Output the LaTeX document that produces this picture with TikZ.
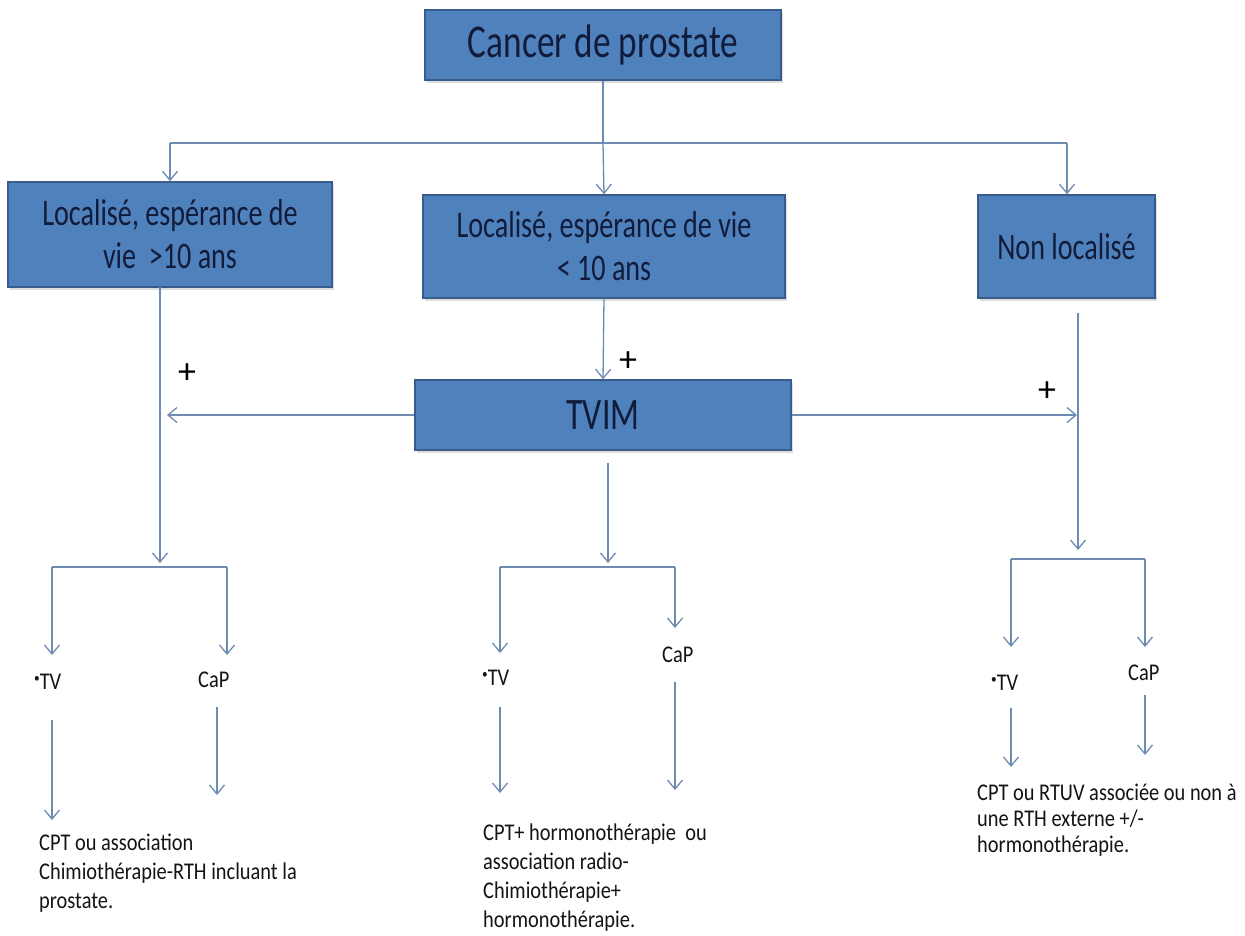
\documentclass[tikz,border=0pt]{standalone}
\usepackage{fontspec}
\setmainfont{Carlito}
\newfontfamily\boxfont[FakeStretch=0.75]{Carlito}
\newfontfamily\smallfont[FakeStretch=0.85]{Carlito}
\usetikzlibrary{arrows.meta,shadows}
\definecolor{boxfill}{RGB}{79,129,189}
\definecolor{boxline}{RGB}{56,93,138}
\definecolor{boxtext}{RGB}{18,28,58}
\definecolor{connc}{RGB}{110,140,178}
\definecolor{bodytext}{RGB}{20,20,20}
\newcommand{\tvbullet}{\raisebox{7pt}{\scalebox{0.55}{•}}}
\begin{document}
\begin{tikzpicture}[x=1pt,y=-1pt,
  box/.style={draw=boxline, line width=1.5pt, fill=boxfill, text=boxtext, align=center, inner sep=0pt,
    drop shadow={shadow xshift=2pt, shadow yshift=-3pt, fill=black!30, opacity=0.45}},
  conn/.style={draw=connc, line width=1.3pt},
  arr/.style={conn, -{Straight Barb[length=9pt,width=15pt,line width=1.3pt]}},
  lbl/.style={inner sep=0pt, text=bodytext, font=\smallfont\fontsize{24}{29}\selectfont},
  body/.style={lbl, align=left, anchor=north west},
  plus/.style={inner sep=0pt, text=black, font=\fontsize{36}{36}\selectfont}
]
\fill[white] (0,0) rectangle (1245,935);
\useasboundingbox (0,0) rectangle (1245,935);

% boxes
\node[box, minimum width=356pt, minimum height=70pt, font=\boxfont\fontsize{47}{54}\selectfont] (top) at (603,45) {Cancer de prostate};
\node[box, minimum width=324pt, minimum height=105pt, font=\boxfont\fontsize{37.5}{43}\selectfont] (left) at (170,234.5) {Localisé, espérance de\\vie\ \ >10 ans};
\node[box, minimum width=362pt, minimum height=103pt, font=\boxfont\fontsize{37.5}{43}\selectfont] (mid) at (604,246.5) {Localisé, espérance de vie\\< 10 ans};
\node[box, minimum width=177pt, minimum height=103pt, font=\boxfont\fontsize{37.5}{43}\selectfont] (right) at (1066.5,246.5) {Non localisé};
\node[box, minimum width=376pt, minimum height=70pt, font=\boxfont\fontsize{45}{50}\selectfont] (tvim) at (603,415) {TVIM};

% top distribution
\coordinate (j0) at (603,143);
\coordinate (jl) at (170,143);
\coordinate (jr) at (1067,143);
\draw[conn] (top.south) -- (j0);
\draw[conn] (jl) -- (jr);
\draw[arr] (jl) -- (jl |- left.north);
\draw[arr] (j0) -- (mid.north);
\draw[arr] (jr) -- (jr |- right.north);

% middle to TVIM
\draw[arr] (mid.south) -- (tvim.north);
\node[plus] (p2) at (628,362) {+};

% left column
\coordinate (l1) at (160,287);
\coordinate (l2) at (160,563);
\draw[arr] (l1) -- (l2);
\coordinate (lh) at (167,415);
\draw[arr] (tvim.west) -- (lh);
\node[plus] (p1) at (187,374) {+};
\coordinate (lb1) at (52,567);
\coordinate (lb2) at (227,567);
\coordinate (lb1e) at (52,655);
\coordinate (lb2e) at (227,655);
\draw[conn] (lb1) -- (lb2);
\draw[arr] (lb1) -- (lb1e);
\draw[arr] (lb2) -- (lb2e);
\node[lbl, anchor=west] (ltv) at (34,682) {\tvbullet TV};
\node[lbl, anchor=west] (lcap) at (198,680) {CaP};
\coordinate (ltva) at (52,720);
\coordinate (ltvb) at (52,820);
\coordinate (lcapa) at (217,707);
\coordinate (lcapb) at (217,795);
\draw[arr] (ltva) -- (ltvb);
\draw[arr] (lcapa) -- (lcapb);
\node[body] (ltext) at (39,834) {CPT ou association\\Chimiothérapie-RTH incluant la\\prostate.};

% middle column
\coordinate (m1) at (608,463);
\coordinate (m2) at (608,563);
\draw[arr] (m1) -- (m2);
\coordinate (mb1) at (500,567);
\coordinate (mb2) at (675,567);
\coordinate (mb1e) at (500,653);
\coordinate (mb2e) at (675,628);
\draw[conn] (mb1) -- (mb2);
\draw[arr] (mb1) -- (mb1e);
\draw[arr] (mb2) -- (mb2e);
\node[lbl, anchor=west] (mtv) at (482,678) {\tvbullet TV};
\node[lbl, anchor=west] (mcap) at (662,655) {CaP};
\coordinate (mtva) at (500,707);
\coordinate (mtvb) at (500,793);
\coordinate (mcapa) at (675,682);
\coordinate (mcapb) at (675,790);
\draw[arr] (mtva) -- (mtvb);
\draw[arr] (mcapa) -- (mcapb);
\node[body] (mtext) at (483,824) {CPT+ hormonothérapie\ \ ou\\association radio-\\Chimiothérapie+\\hormonothérapie.};

% right column
\coordinate (rh) at (1077,415);
\draw[arr] (tvim.east) -- (rh);
\node[plus] (p3) at (1047,392) {+};
\coordinate (r1) at (1078,313);
\coordinate (r2) at (1078,550);
\draw[arr] (r1) -- (r2);
\coordinate (rb1) at (1011,559);
\coordinate (rb2) at (1145,559);
\coordinate (rb1e) at (1011,647);
\coordinate (rb2e) at (1145,647);
\draw[conn] (rb1) -- (rb2);
\draw[arr] (rb1) -- (rb1e);
\draw[arr] (rb2) -- (rb2e);
\node[lbl, anchor=west] (rtv) at (991,683) {\tvbullet TV};
\node[lbl, anchor=west] (rcap) at (1128,673) {CaP};
\coordinate (rtva) at (1011,708);
\coordinate (rtvb) at (1011,767);
\coordinate (rcapa) at (1145,695);
\coordinate (rcapb) at (1145,755);
\draw[arr] (rtva) -- (rtvb);
\draw[arr] (rcapa) -- (rcapb);
\node[body, font=\smallfont\fontsize{24}{26}\selectfont] (rtext) at (977,784) {CPT ou RTUV associée ou non à\\une RTH externe +/-\\hormonothérapie.};
\end{tikzpicture}
\end{document}
